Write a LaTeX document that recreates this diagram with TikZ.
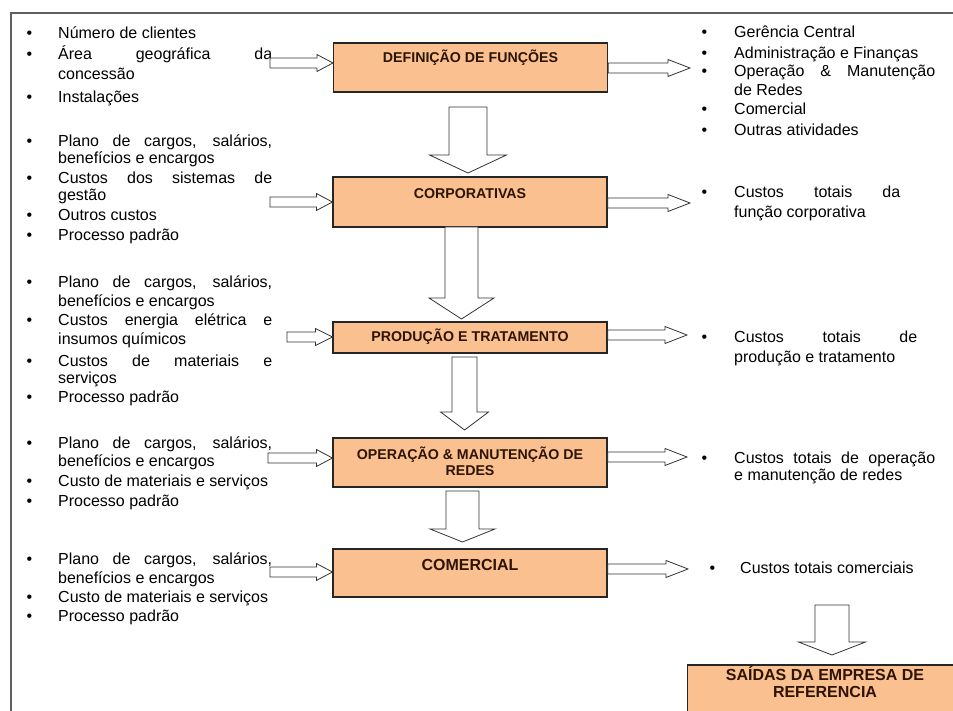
\documentclass[tikz,border=0pt]{standalone}
\usepackage{fontspec}
\setmainfont{Liberation Sans}
\usetikzlibrary{calc}
\definecolor{boxfill}{RGB}{250,192,143}
\definecolor{boxtext}{RGB}{45,20,5}
\definecolor{framegray}{RGB}{95,95,95}
% bullet hanging left of the text
\newcommand{\bul}[1][26pt]{\llap{\textbullet\hspace{#1}}}
% right-pointing block arrow: [head length]{tail}{tip}
\newcommand{\rblock}[3][18pt]{%
  \draw[blockarrow] let \p1=(#2), \p2=(#3) in
    (\x1,\y1+5pt) -- (\x2-#1,\y1+5pt) -- (\x2-#1,\y1+8.5pt) -- (\x2,\y1)
    -- (\x2-#1,\y1-8.5pt) -- (\x2-#1,\y1-5pt) -- (\x1,\y1-5pt) -- cycle;}
% downward block arrow: {top}{tip}{shaft half}{head half}{head length}
\newcommand{\dblock}[5]{%
  \draw[blockarrow] let \p1=(#1), \p2=(#2) in
    (\x1-#3,\y1) -- (\x1-#3,\y2+#5) -- (\x1-#4,\y2+#5) -- (\x2,\y2)
    -- (\x1+#4,\y2+#5) -- (\x1+#3,\y2+#5) -- (\x1+#3,\y1) -- cycle;}

\begin{document}
\begin{tikzpicture}[x=1pt,y=-1pt,
  box/.style={draw=black!85, line width=1.2pt, fill=boxfill, inner sep=0pt, minimum width=274pt},
  boxlabel/.style={font=\fontsize{14.2}{16}\selectfont\bfseries, text=boxtext, align=center, inner sep=0pt},
  biglabel/.style={boxlabel, font=\fontsize{16}{17}\selectfont\bfseries},
  litem/.style={anchor=base west, inner sep=0pt, text width=214pt, align=justify, font=\fontsize{16}{#1}\selectfont},
  litem/.default=19,
  ritem/.style={anchor=base west, inner sep=0pt, text width=201pt, align=justify, font=\fontsize{16}{#1}\selectfont},
  ritem/.default=19,
  blockarrow/.style={draw=black!80, line width=0.8pt, fill=white}]
  \useasboundingbox (0,0) rectangle (953,711);
  \clip (0,0) rectangle (953,711);
  \draw[framegray, line width=2pt] (11,715) -- (11,13.5) -- (960,13.5);

  % boxes
  \node[box, minimum height=49pt] (def) at (470.5,67.5) {};
  \node[box, minimum height=50pt] (corp) at (470,202) {};
  \node[box, minimum height=31pt] (prod) at (470,337.5) {};
  \node[box, minimum height=49pt] (oper) at (470,462.5) {};
  \node[box, minimum height=48pt] (com) at (470,573) {};
  \node[box, minimum height=50pt] (saidas) at (824.5,690) {};
  \node[boxlabel] (defl) at (470.5,58) {DEFINIÇÃO DE FUNÇÕES};
  \node[boxlabel] (corpl) at (470,194) {CORPORATIVAS};
  \node[boxlabel] (prodl) at (470,337) {PRODUÇÃO E TRATAMENTO};
  \node[boxlabel] (operl) at (470,461) {OPERAÇÃO \& MANUTENÇÃO DE\\REDES};
  \node[biglabel] (coml) at (470,565) {COMERCIAL};
  \node[biglabel] (saidasl) at (825,681.5) {SAÍDAS DA EMPRESA DE\\REFERENCIA};

  % inputs
  \node[litem] (n1a) at (58,39) {\bul Número de clientes};
  \node[litem=20] (n1b) at (58,60) {\bul Área geográfica da\linebreak concessão};
  \node[litem] (n1c) at (58,103) {\bul Instalações};
  \node[litem=16.5] (n2a) at (58,147) {\bul Plano de cargos, salários,\linebreak benefícios e encargos};
  \node[litem=17] (n2b) at (58,184) {\bul Custos dos sistemas de\linebreak gestão};
  \node[litem] (n2c) at (58,221) {\bul Outros custos};
  \node[litem] (n2d) at (58,241) {\bul Processo padrão};
  \node[litem] (n3a) at (58,288) {\bul Plano de cargos, salários,\linebreak benefícios e encargos};
  \node[litem=18] (n3b) at (58,326) {\bul Custos energia elétrica e\linebreak insumos químicos};
  \node[litem=17.5] (n3c) at (58,366) {\bul Custos de materiais e\linebreak serviços};
  \node[litem] (n3d) at (58,402) {\bul Processo padrão};
  \node[litem=18] (n4a) at (58,448) {\bul Plano de cargos, salários,\linebreak benefícios e encargos};
  \node[litem] (n4b) at (58,486) {\bul Custo de materiais e serviços};
  \node[litem] (n4c) at (58,506) {\bul Processo padrão};
  \node[litem] (n5a) at (58,564) {\bul Plano de cargos, salários,\linebreak benefícios e encargos};
  \node[litem] (n5b) at (58,602) {\bul Custo de materiais e serviços};
  \node[litem] (n5c) at (58,621) {\bul Processo padrão};

  % outputs
  \node[ritem] (r1a) at (734,38) {\bul[27pt]Gerência Central};
  \node[ritem] (r1b) at (734,59) {\bul[27pt]Administração e Finanças};
  \node[ritem] (r1c) at (734,77) {\bul[27pt]Operação \& Manutenção\linebreak de Redes};
  \node[ritem] (r1d) at (734,115) {\bul[27pt]Comercial};
  \node[ritem] (r1e) at (734,136) {\bul[27pt]Outras atividades};
  \node[ritem=20, text width=166pt] (r2) at (734,198) {\bul[27pt]Custos totais da\linebreak função corporativa};
  \node[ritem=20, text width=183pt] (r3) at (734,342) {\bul[27pt]Custos totais de\linebreak produção e tratamento};
  \node[ritem=17.5] (r4) at (734,463) {\bul[27pt]Custos totais de operação\linebreak e manutenção de redes};
  \node[ritem] (r5) at (740,573) {\bul[25pt]Custos totais comerciais};

  % horizontal block arrows
  \coordinate (i1) at (270,63);
  \coordinate (i2) at (270,202);
  \coordinate (i3) at (287,337);
  \coordinate (i4) at (268,458);
  \coordinate (i5) at (270,572);
  \coordinate (o1) at (690,68);
  \coordinate (o2) at (690,203);
  \coordinate (o3) at (687,335);
  \coordinate (o4) at (687,457);
  \coordinate (o5) at (688,569);
  \rblock[16pt]{i1}{def.west |- i1}
  \rblock[16pt]{i2}{corp.west |- i2}
  \rblock[17pt]{i3}{prod.west |- i3}
  \rblock[16pt]{i4}{oper.west |- i4}
  \rblock[16pt]{i5}{com.west |- i5}
  \rblock[22pt]{def.east |- o1}{o1}
  \rblock[22pt]{corp.east |- o2}{o2}
  \rblock[22pt]{prod.east |- o3}{o3}
  \rblock[22pt]{oper.east |- o4}{o4}
  \rblock[22pt]{com.east |- o5}{o5}

  % vertical block arrows
  \coordinate (v1a) at (468,107);   \coordinate (v1b) at (468,173);
  \coordinate (v2a) at (461.5,227); \coordinate (v2b) at (461.5,319);
  \coordinate (v3a) at (464.5,357); \coordinate (v3b) at (464.5,430);
  \coordinate (v4a) at (462.5,491); \coordinate (v4b) at (462.5,542);
  \coordinate (v5a) at (832,605);   \coordinate (v5b) at (832,655);
  \dblock{v1a}{v1b}{19pt}{38.5pt}{18pt}
  \dblock{v2a}{v2b}{16.5pt}{32.5pt}{21pt}
  \dblock{v3a}{v3b}{12.5pt}{24pt}{18pt}
  \dblock{v4a}{v4b}{16.5pt}{32.5pt}{13pt}
  \dblock{v5a}{v5b}{17pt}{33.5pt}{13pt}
\end{tikzpicture}
\end{document}
